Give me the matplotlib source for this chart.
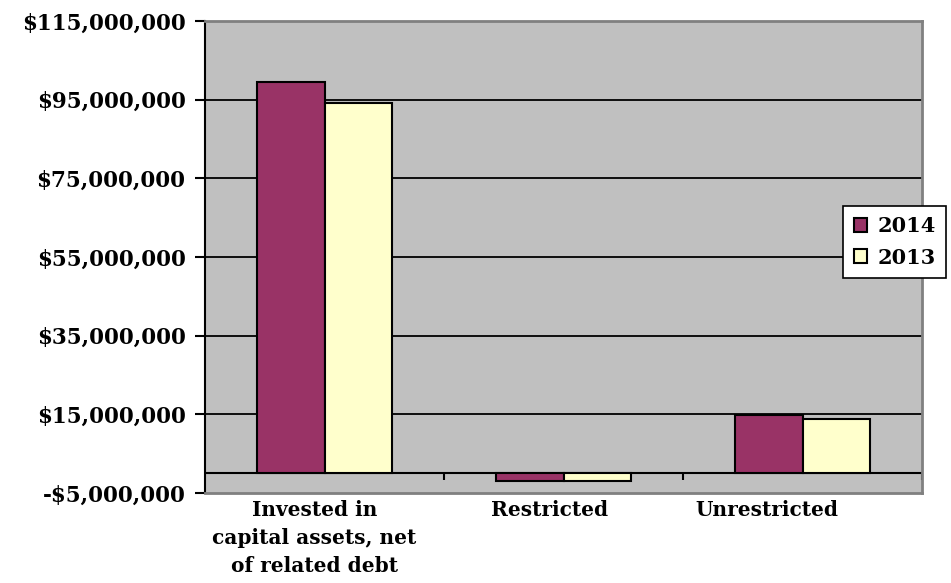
import matplotlib
matplotlib.use("Agg")
import matplotlib.pyplot as plt
import matplotlib.transforms as mtransforms
import numpy as np
from matplotlib.ticker import FuncFormatter

# Data
categories = ["Invested in\ncapital assets, net\nof related debt", "Restricted", "Unrestricted"]
years = ["2014", "2013"]
values_2014 = [99.5e6, -2.0e6, 14.9e6]
values_2013 = [94.2e6, -2.0e6, 13.8e6]
y_ticks = [-5e6, 15e6, 35e6, 55e6, 75e6, 95e6, 115e6]

plt.rcParams['font.family'] = ['DejaVu Serif']
plt.rcParams['font.weight'] = 'bold'

fig = plt.figure(figsize=(9.51, 5.83), dpi=100)
ax = fig.add_axes([205/951, 90/583, 717/951, 472/583])
ax.set_facecolor("#C0C0C0")

x = np.arange(len(categories))
w = 0.284
ax.bar(x - w/2, values_2014, width=w, color="#993366", edgecolor="black", linewidth=1.5, label=years[0], zorder=3)
ax.bar(x + w/2, values_2013, width=w, color="#FFFFCC", edgecolor="black", linewidth=1.5, label=years[1], zorder=3)

ax.set_xlim(-0.5, len(categories) - 0.5)
ax.set_ylim(-5e6, 115e6)

# gridlines + zero axis line
for t in y_ticks[1:-1]:
    ax.axhline(t, color="black", linewidth=1.3, zorder=1)
ax.axhline(0, color="black", linewidth=1.5, zorder=2)
ax.vlines(x + 0.5, -1.8e6, 0, color="black", linewidth=1.5, zorder=2)

ax.set_yticks(y_ticks)
ax.yaxis.set_major_formatter(FuncFormatter(lambda v, p: ("-$" if v < 0 else "$") + f"{abs(v):,.0f}"))
ax.tick_params(axis='y', length=7, width=1.5, labelsize=15.5, pad=7)
ax.set_xticks(x)
ax.set_xticklabels(categories, fontsize=14.5, linespacing=1.5)
ax.tick_params(axis='x', length=0, pad=5)

# labels in the original sit a little left of the category centres
shifts = [-10, -14, -36]
for lbl, dx in zip(ax.get_xticklabels(), shifts):
    lbl.set_transform(lbl.get_transform() + mtransforms.ScaledTranslation(dx/100, 0, fig.dpi_scale_trans))

for s in ["top", "right", "bottom"]:
    ax.spines[s].set_color("#808080")
    ax.spines[s].set_linewidth(2)
ax.spines["left"].set_color("black")
ax.spines["left"].set_linewidth(1.5)

leg = ax.legend(loc="center left", bbox_to_anchor=(0.89, 0.532), fontsize=15,
                handlelength=0.65, handleheight=0.65, handletextpad=0.5,
                fancybox=False, framealpha=1, edgecolor="black", borderpad=0.5,
                labelspacing=0.55, borderaxespad=0)
leg.get_frame().set_linewidth(1.2)
leg.set_zorder(5)

fig.savefig("out.png", dpi=100)
